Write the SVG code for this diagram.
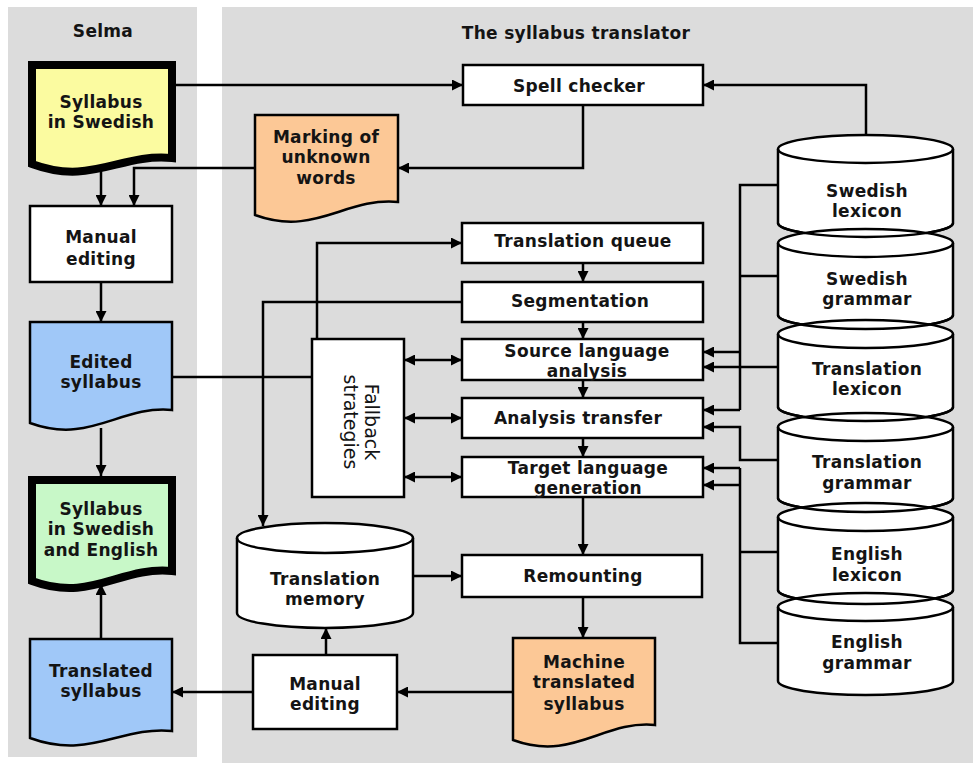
<svg xmlns="http://www.w3.org/2000/svg" width="973" height="763" viewBox="0 0 973 763">
<style>
.panel{fill:#dcdcdc}
.box{fill:#fff;stroke:#000;stroke-width:2.5}
.thick{stroke:#000;stroke-width:8;stroke-linejoin:miter}
.t{font-family:"DejaVu Sans","Liberation Sans",sans-serif;font-weight:bold;font-size:17px;letter-spacing:0.3px;text-anchor:middle;fill:#141414}
.r{font-weight:normal;font-size:19px;letter-spacing:0}
.c{fill:none;stroke:#000;stroke-width:2.5}
.a{marker-end:url(#ah)}
.d{marker-start:url(#ah);marker-end:url(#ah)}
</style>
<defs>
<marker id="ah" viewBox="0 0 10 10" refX="10" refY="5" markerWidth="11" markerHeight="11" markerUnits="userSpaceOnUse" orient="auto-start-reverse">
<path d="M0,0 L10,5 L0,10 z" fill="#000"/>
</marker>
</defs>
<rect class="panel" x="8" y="7" width="189" height="750"/>
<rect class="panel" x="222" y="7" width="751" height="756"/>
<text class="t" x="103" y="37">Selma</text>
<text class="t" x="576" y="39">The syllabus translator</text>

<g id="connectors">
<path class="c a" d="M176,85 H463"/>
<path class="c a" d="M866,135 V85 H703"/>
<path class="c a" d="M583,105 V168 H398"/>
<path class="c a" d="M101,171 V206"/>
<path class="c a" d="M255,168 H134 V206"/>
<path class="c a" d="M101,282 V322"/>
<path class="c a" d="M101,428 V476"/>
<path class="c a" d="M101,639 V584"/>
<path class="c" d="M172,377 H312"/>
<path class="c a" d="M317,339 V243 H462"/>
<path class="c a" d="M462,302 H263 V526"/>
<path class="c a" d="M583,263 V282"/>
<path class="c a" d="M583,322 V339"/>
<path class="c a" d="M583,380 V398"/>
<path class="c a" d="M583,438 V457"/>
<path class="c d" d="M404,360 H462"/>
<path class="c d" d="M404,418 H462"/>
<path class="c d" d="M404,477 H462"/>
<path class="c a" d="M583,497 V555"/>
<path class="c a" d="M583,597 V638"/>
<path class="c a" d="M413,576 H462"/>
<path class="c a" d="M513,692 H397"/>
<path class="c a" d="M253,692 H172"/>
<path class="c a" d="M326,655 V628"/>
<path class="c" d="M778,185 H740 V410"/>
<path class="c" d="M778,276 H740"/>
<path class="c a" d="M740,352 H703"/>
<path class="c a" d="M740,410 H703"/>
<path class="c a" d="M778,367 H703"/>
<path class="c a" d="M778,460 H740 V427 H703"/>
<path class="c a" d="M740,468 H703"/>
<path class="c a" d="M740,485 H703"/>
<path class="c" d="M778,643 H740 V468"/>
<path class="c" d="M778,552 H740"/>
</g>

<g id="syllabus-swedish">
<path class="thick" fill="#fbfba0" d="M32,65 H172 V158 C120,153 91,186 32,164 Z"/>
<text class="t" x="101" y="108">Syllabus</text>
<text class="t" x="101" y="128">in Swedish</text>
</g>
<g id="spell-checker">
<rect class="box" x="463" y="65" width="240" height="40"/>
<text class="t" x="579" y="92">Spell checker</text>
</g>
<g id="marking">
<path class="box" style="fill:#fcc896" d="M255,115 H398 V202 C345,197 315,237 255,215 Z"/>
<text class="t" x="326" y="143">Marking of</text>
<text class="t" x="326" y="163">unknown</text>
<text class="t" x="326" y="184">words</text>
</g>
<g id="manual-editing-1">
<rect class="box" x="30" y="206" width="142" height="76"/>
<text class="t" x="101" y="243">Manual</text>
<text class="t" x="101" y="265">editing</text>
</g>
<g id="edited-syllabus">
<path class="box" style="fill:#a0c8f8" d="M30,322 H172 V410 C120,405 90,445 30,423 Z"/>
<text class="t" x="101" y="368">Edited</text>
<text class="t" x="101" y="388">syllabus</text>
</g>
<g id="syllabus-both">
<path class="thick" fill="#c8f8c8" d="M32,480 H172 V571 C120,566 91,603 32,581 Z"/>
<text class="t" x="101" y="515">Syllabus</text>
<text class="t" x="101" y="535">in Swedish</text>
<text class="t" x="101" y="556">and English</text>
</g>
<g id="translated-syllabus">
<path class="box" style="fill:#a0c8f8" d="M30,639 H172 V731 C120,726 90,760 30,738 Z"/>
<text class="t" x="101" y="677">Translated</text>
<text class="t" x="101" y="697">syllabus</text>
</g>
<g id="translation-queue">
<rect class="box" x="462" y="223" width="241" height="40"/>
<text class="t" x="583" y="247">Translation queue</text>
</g>
<g id="segmentation">
<rect class="box" x="462" y="282" width="241" height="40"/>
<text class="t" x="580" y="307">Segmentation</text>
</g>
<g id="source-analysis">
<rect class="box" x="462" y="339" width="241" height="41"/>
<text class="t" x="587" y="357">Source language</text>
<text class="t" x="587" y="377">analysis</text>
</g>
<g id="analysis-transfer">
<rect class="box" x="462" y="398" width="241" height="40"/>
<text class="t" x="578" y="424">Analysis transfer</text>
</g>
<g id="target-generation">
<rect class="box" x="462" y="457" width="241" height="40"/>
<text class="t" x="588" y="474">Target language</text>
<text class="t" x="588" y="494">generation</text>
</g>
<g id="fallback">
<rect class="box" x="312" y="339" width="92" height="158"/>
<text class="t r" transform="translate(358,422) rotate(90)"><tspan x="0" y="-7">Fallback</tspan><tspan x="0" y="14">strategies</tspan></text>
</g>
<g id="translation-memory">
<path class="box" d="M237,538 A88,15 0 0 1 413,538 V613 A88,15 0 0 1 237,613 Z"/>
<path class="c" d="M237,538 A88,15 0 0 0 413,538"/>
<text class="t" x="325" y="585">Translation</text>
<text class="t" x="325" y="605">memory</text>
</g>
<g id="remounting">
<rect class="box" x="462" y="555" width="240" height="42"/>
<text class="t" x="583" y="582">Remounting</text>
</g>
<g id="machine-translated">
<path class="box" style="fill:#fcc896" d="M513,638 H655 V725 C603,720 573,762 513,740 Z"/>
<text class="t" x="584" y="668">Machine</text>
<text class="t" x="584" y="688">translated</text>
<text class="t" x="584" y="710">syllabus</text>
</g>
<g id="manual-editing-2">
<rect class="box" x="253" y="655" width="144" height="74"/>
<text class="t" x="325" y="690">Manual</text>
<text class="t" x="325" y="710">editing</text>
</g>

<g id="swedish-lexicon">
<path class="box" d="M778,149 A87.5,14 0 0 1 953,149 V223 A87.5,14 0 0 1 778,223 Z"/>
<path class="c" d="M778,149 A87.5,14 0 0 0 953,149"/>
<text class="t" x="867" y="197">Swedish</text>
<text class="t" x="867" y="217">lexicon</text>
</g>
<g id="swedish-grammar">
<path class="box" d="M778,243 A87.5,14 0 0 1 953,243 V315 A87.5,14 0 0 1 778,315 Z"/>
<path class="c" d="M778,243 A87.5,14 0 0 0 953,243"/>
<text class="t" x="867" y="285">Swedish</text>
<text class="t" x="867" y="305">grammar</text>
</g>
<g id="translation-lexicon">
<path class="box" d="M778,334 A87.5,14 0 0 1 953,334 V407 A87.5,14 0 0 1 778,407 Z"/>
<path class="c" d="M778,334 A87.5,14 0 0 0 953,334"/>
<text class="t" x="867" y="375">Translation</text>
<text class="t" x="867" y="395">lexicon</text>
</g>
<g id="translation-grammar">
<path class="box" d="M778,427 A87.5,14 0 0 1 953,427 V498 A87.5,14 0 0 1 778,498 Z"/>
<path class="c" d="M778,427 A87.5,14 0 0 0 953,427"/>
<text class="t" x="867" y="468">Translation</text>
<text class="t" x="867" y="489">grammar</text>
</g>
<g id="english-lexicon">
<path class="box" d="M778,517 A87.5,14 0 0 1 953,517 V590 A87.5,14 0 0 1 778,590 Z"/>
<path class="c" d="M778,517 A87.5,14 0 0 0 953,517"/>
<text class="t" x="867" y="560">English</text>
<text class="t" x="867" y="581">lexicon</text>
</g>
<g id="english-grammar">
<path class="box" d="M778,607 A87.5,14 0 0 1 953,607 V681 A87.5,14 0 0 1 778,681 Z"/>
<path class="c" d="M778,607 A87.5,14 0 0 0 953,607"/>
<text class="t" x="867" y="648">English</text>
<text class="t" x="867" y="669">grammar</text>
</g>
<g id="cylinder-bottom-edges">
<path class="c" d="M778,223 A87.5,14 0 0 0 953,223"/>
<path class="c" d="M778,315 A87.5,14 0 0 0 953,315"/>
<path class="c" d="M778,407 A87.5,14 0 0 0 953,407"/>
<path class="c" d="M778,498 A87.5,14 0 0 0 953,498"/>
<path class="c" d="M778,590 A87.5,14 0 0 0 953,590"/>
</g>
</svg>
